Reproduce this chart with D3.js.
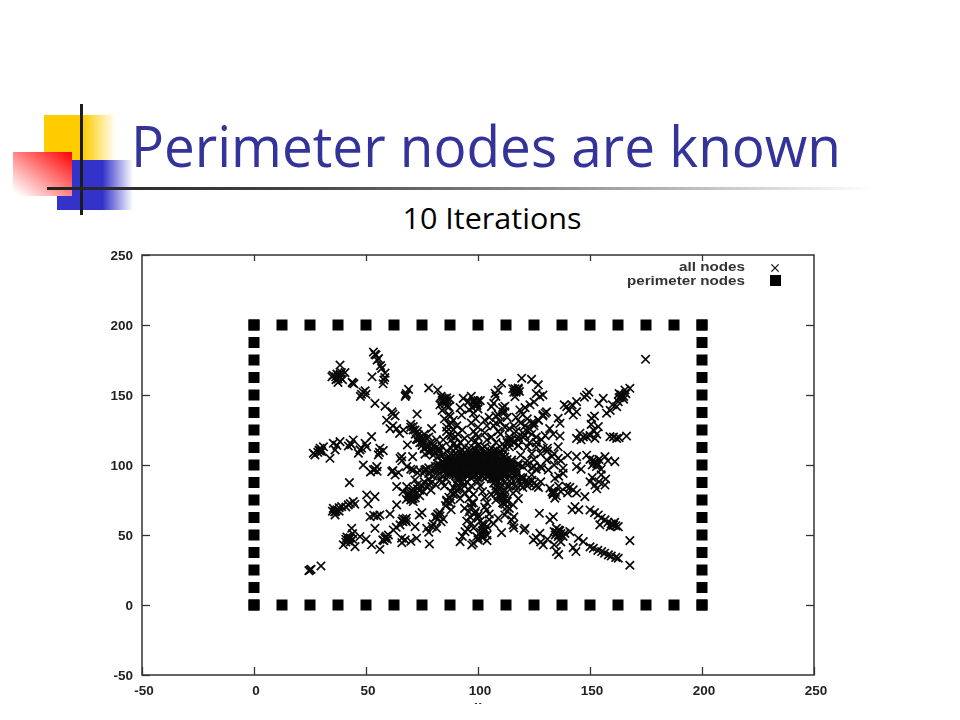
<!DOCTYPE html>
<html><head><meta charset="utf-8">
<script src="https://cdn.jsdelivr.net/npm/d3@7"></script>
<style>html,body{margin:0;padding:0;background:#fff}svg{display:block}</style>
</head><body><svg id="c" width="960" height="720"></svg>
<script>
const titleText = "Perimeter nodes are known";
const subtitleText = "10 Iterations";
const xTicks = [-50,0,50,100,150,200,250];
const yTicks = [-50,0,50,100,150,200,250];
const legendLabels = ["all nodes","perimeter nodes"];
const perimeterSteps = [0,12.5,25,37.5,50,62.5,75,87.5,100,112.5,125,137.5,150,162.5,175,187.5,200];

const upperLeftArm = [[53.3,180.7],[54,179],[54.5,178.6],[55,175],[55.6,176],[57,169],[56.5,171],[58.5,165.7],[58,160.7],[57.6,158],[58.4,162.5],[52.7,163],
[38.4,171.4],[39,166],[35.3,164],[38.4,163],[40.6,166],[37.5,159],[34.8,163],[37,165],[39.5,161],[36.6,161],[44,158.6],[43.8,159],[44.6,158],[48.7,152],[48,150.5],[49.6,153],[47.5,149],[50,150.5],
[54,144],[58.5,142],[61.6,138],[62,136.4],[63,135],[72.8,136.4],[68,151],[67.5,149],[69,154],[67.8,150],[78,155],[82,153.6],[84.6,146.6],[83.5,149],[85.5,144],[86,148],[83,143],[87,141.5],[85,145.5],[87.5,147],
[59.2,132],[60.7,126],[63.7,126],[62,128],[66.7,125],[65,122.5],[71.1,127.4],[71.9,125],[70,129],[73.4,121.5],[72.5,118.5],[75.6,119],[74,116],[79.3,126],[81.5,118],[84.5,118],[78,120],[77,114.5],[80,113.5],[82.5,112],[76,111.5],
[87.5,134.6],[89,132],[87,129],[90.5,128],[92.7,135.7],[93.4,147.6],[95.7,145.3],[92,141],[97,149],[96,139.5],[98.6,143],[99.5,144.5],[97.5,141],[98,146]];

const leftArm = [[29.5,112],[27.2,107.2],[26.5,108.4],[31,113],[30.2,109.6],[29,110.5],[33.9,104.8],[35.4,115.5],[38.4,116.7],[36.2,110.8],[37,114],[42.9,115.5],[44.3,117.9],[42.1,113.6],[43.5,114.5],[47.3,110.8],[46.6,108.4],[48,112],[49.6,115.5],[52.5,120.3],[50.3,113.1],[56.2,112],[57.7,110.3],[55.5,107.2],[56,109],[65.9,106],[65.2,104.8],[66,103],[70.8,106],[76.3,107.7],[68.5,114.3],
[48.8,100],[53.3,96.5],[54.8,98.8],[52,95],[55,95.5],[54,97],[61.5,95.3],[63,92.9],[62,96],[64.5,94.5],[68.2,98.8],[70,97],[76.3,96.5],[71.1,96.5],[73,94.5],[78,98],[80,97],[82,99],[84,96]];

const lowerLeft = [[25,25],[24.5,24.5],[25.5,25.5],[29.9,27.9],[42.6,87.4],[35.4,69],[35,67],[39.1,70.3],[38,69.5],[36.2,64.3],[36.5,67],[44.3,73.9],[42.1,71.5],[43,72.5],[41,70],[45,72],[50.3,78.6],[54,77.4],[51,72.2],[51.8,63],[53.5,64],[56.2,64.3],[55,63.5],[60.7,65],[63.7,71.5],
[67.4,60.8],[66.5,59.5],[68,62],[65.2,57.2],[66,60],[62.2,53.6],[63.5,55.5],[60,50],[58.5,47.7],[59,49],[57.5,46.5],[54,54.8],[43.6,54.8],[42.1,46.5],[41,45],[43,48],[44,47],[41.5,48.5],[39.9,43],[45.1,41.7],[47.3,48.9],[44,51],[52.5,43],[50,47],[56.2,39.8],[65.9,47.7],[67.5,46.5],[66,44.5],[72.6,47.7],[70,45.5],[71.9,56],[78.3,43.6],
[73.8,64.3],[75,66],[77.1,54.8],[78,52],[81.5,54.8],[79.5,56],[80,58],[82.3,64.3],[83,66],[81,62.5],[84.5,61.5],[83.5,59.5],
[63.7,84.6],[68.2,84.6],[66.5,81],[71.9,89.3],[68.9,79.8],[70.5,76],[71.1,73.9],[72,76.5],[74,78],[75.6,81],[73,83],[77,84.5],[79,82],[71,81],[83,89.3],[85,85],[81,86],[87.5,72.7],[85.5,71],[86,75],[88,68],[90.5,82],[89,79],[94.2,52.4],[92,45.3],[93,49],[95.5,54],[97.2,42.9],[99.4,48.9],[100,46.5],[96.4,63],[95,60],[97,58.5],[97.2,72.7],[94,69],[96,66.5],[92,76],[94,80]];

const upperRight = [[174.8,175.5],[119.5,162],[123.9,161.2],[110.5,158.4],[126.9,157.2],[117.2,153.6],[116,152],[118,155],[115.5,154.5],[118.5,152.5],[107.6,151.2],[108,149],[109,153.5],[127.6,148.8],[126,151],[129,150],[116.5,148.8],[106,141.7],[107,144],[112,138],[111,141],[113,134],[109,136],[123.2,143],[121,141],[125,145],[118.7,139.3],[120,136],[117,134],[122,133],[130.6,138],[129,136],[127,132],[125,130],[121,128],[116,128],[112,127],[108,130],[105,134],
[135.8,133.4],[136.6,129.8],[139.6,141.7],[140.5,139],[138.5,143],[144,145.3],[142,143],[148.5,150],[147.5,148.5],[149.5,152],[142.5,135.7],[144,138],[155.9,147.6],[154,144],[157.4,137],[159,139],[150.7,133.4],[152,135],[161.9,141.7],[160,143],[164.1,150],[163,148],[165,147],[167.8,154.8],[165.6,153.6],[162.6,145.3],[166,151],[153.7,127.4],[151.5,125],[150.5,129],[145.5,122.7],[147,120],[144,119],[146,118],[148.5,120.3],[150,121],[152.2,119],[153,122],[158.9,120.3],[161.9,119],[160.5,120],[163,119.5],[166.3,120.7],[133.6,122],[136.6,120.7],[135.8,113],[128.4,118],[126,120],[124,122],[129.1,112],[126,113],[123,116],[120,120],[118,114],[114,118],[110,122]];

const rightMid = [[144,106],[130.6,103.6],[135.8,104.8],[133,106],[148.5,107],[150,104],[152.2,102.4],[151,100],[153.5,101],[154,104],[156.7,106],[158,103],[161.1,102.4],[152.9,98.9],[155,97],[144,98.9],[146,97],[138,97.7],[128.4,97.7],[125,99],[122,103],[119,107],[124,108],
[138,94],[134.3,90.5],[136,92],[131.4,96.5],[126.2,85.7],[128,88],[122.4,88.1],[120,91],[117,94],[124,93],[152.2,85.7],[156.7,85.7],[154,88],[153,83],[151,91],[155,93],[150,88],[157,90],[150,67.9],[152,66],[153.7,64.3],[155,62],[156.7,60.8],[158,59],[160.4,57.2],[161,59],[162.6,56],[159,56],[154.4,57.2]];

const lowerRight = [[167.8,28.4],[167.8,46],[162.6,33.4],[161.5,34],[158.2,35.8],[159.5,35],[155.2,38.2],[156.5,37],[153.5,39],[151.5,40.5],[150,41.5],[147,45.3],[144.8,47.7],[143.7,38.2],[142.5,41],[135,38.2],[136,36],[135.8,48.9],[137,45],[134,43],[135,54.8],[134,52.5],[136.5,53],[138.8,51.2],[138,49],[141,52.4],[133.6,63],[132.1,60.8],[127.4,65.5],[121,54.8],[120.5,53.5],[115.7,57.2],[116,55],[110.5,51.7],[127.6,51.2],[124.7,46.5],[126,48],[129.1,42.9],[128,45],[131,47],
[103.1,53.6],[102,51],[100.1,47.7],[101.5,49],[97.9,44.1],[104,56],[143.3,70.3],[145,68],[142,68],[147.7,77.4],[144,80],[142.5,82.2],[140,80],[137,81],[134.3,76.3],[135,78],[132.1,83.4],[133.5,80],[139.6,84.6],[141,84],[136,85],
[115.7,79.8],[115.7,71.5],[113,74],[111.3,72.7],[110.5,77.4],[108,75],[107.6,82.2],[106,79],[103.8,67.9],[103,70],[105,65],[98.6,65.5],[100,62],[115,60.8],[116,63],[112,64.3],[113,67],[109,62],[107,58],[105,61],[102,58],[98,55],[120,84],[117,82],[114,85],[112,82],[118,76]];

const coreA = [[90,108],[94,108.4],[97,107.8],[101,108.5],[104,108],[107,107.6],[110,108.2],
[87,106],[91,106.3],[95,105.8],[99,106.2],[102,105.7],[105,106.1],[109,106],[112,105.8],
[85,104],[88,104.2],[92,103.8],[96,104.1],[100,104],[103,103.7],[106,104.2],[110,104],[113,103.9],
[84,102],[87,102.2],[90,101.8],[94,102],[97,102.3],[101,101.9],[104,102],[108,102.2],[111,101.8],[115,102],
[83,100],[86,100.2],[89,99.8],[92,100],[95,100.3],[98,99.9],[102,100],[105,100.2],[108,99.8],[112,100],[115,100.2],
[83,98],[87,98.2],[90,97.8],[93,98],[96,98.3],[100,97.9],[103,98],[106,98.2],[110,97.8],[113,98],[116,98.1],
[85,96],[88,96.2],[91,95.8],[95,96],[98,96.3],[101,95.9],[104,96],[108,96.2],[111,95.8],[114,96],[117,96.1],
[87,94],[90,94.2],[93,93.8],[97,94],[100,94.3],[103,93.9],[107,94],[110,94.2],[113,93.8],
[91,92],[95,92.2],[98,91.8],[102,92],[105,92.3],[108,91.9],[112,92]];

const coreB = [[92,109],[96,109.5],[99,109],[103,109.6],[106,109.2],[89,107],[93,107],[97,106.9],[100.5,107],[104,107],[107.5,107.2],[111,107],
[86.5,105],[90,105],[94,105],[97.5,105.2],[101,105],[104.5,105],[108,105],[111.5,105],[85.5,103],[89,103],[93,103],[95.5,103],[99,103],[102,103],[105.5,103],[109,103],[112,103],[115,103.5],
[85,101],[88,101],[91,101],[93.5,101],[96.5,101],[100,101],[103,101],[106.5,101],[110,101],[113.5,101],[84.5,99],[88,99],[91,99],[94,99],[97,99],[100,99],[103.5,99],[107,99],[110,99],[114,99],
[85,97],[89,97],[92,97],[94.5,97],[97.5,97],[102,97],[105,97],[109,97],[112,97],[115,97],[87,95],[89.5,95],[92.5,95],[96,95],[99.5,95],[102.5,95],[106,95],[109,95],[112.5,95],[116,95],
[89,93],[93,93],[96,93],[99,93],[101.5,93],[105,93],[109,93],[111.5,93.5],[114,93],[93,91],[97,90.5],[100,91],[103,90.5],[106,91],[110,90.8]];

const coreC = [[86,103],[88,100.6],[91,99.5],[93,101.5],[95,99],[97,100.5],[99,101.5],[101,99.5],[103,100.5],[105,99],[107,100.8],[109,98.6],[111,100.5],[113,99.4],[88,98],[90,96],[92,98.5],[94,96.5],[96,97.5],[98,95],[100,96.5],[102,98.5],[104,97.5],[106,96.5],[108,97.8],[110,96],[112,95],[114,97.5],[90,103.5],[92,102],[94,104],[96,102.5],[98,104],[100,102.5],[102,104.5],[104,103.5],[106,102.5],[108,104],[110,102.5],[112,101.5],[92,105.5],[95,107],[98,105],[101,106.5],[103,105],[106,106],[96,93.5],[99,92.5],[102,94],[104,92],[107,92.5],[94,94],[90,92.5],[88,94.5],[110,92],[112,94],[115,94],[117,98],[118,100],[82,101],[81,99],[84,98]];

const raysUp = [[80,107],[79,110],[78,109],[77,113],[76,112],[75,116],[74,119],[73,118],[72,122],[71,125],[73,124],[70,127],[81,112],[83,110],[79,116],[77,119],[76,122],[84,113],
[90,112],[89,115],[88,118],[90,120],[87,122],[89,125],[86,127],[88,130],[85,133],[87,136],[84,139],[86,142],[85,146],[84,148],[92,116],[91,122],
[98,112],[100,114],[97,118],[100,120],[98,124],[100,127],[97,130],[99,133],[98,137],[100,140],[99,143],[98,145],[101,146],
[110,110],[112,113],[113,116],[115,118],[116,116],[118,120],[120,123],[121,121],[123,126],[125,128],[124,130],[127,132],[129,135],[130,137],[111,115],[114,120],[117,124],
[106,112],[108,116],[106,120],[109,124],[107,128],[110,131],[108,135],[111,138],[112,142],[103,113],[104,118],[103,123],[104,128],[94,113],[94,119],[93,125],
[84,107],[82,106],[81,109],[80,111],[78,113],[75,114],[86,110],[88,112],[91,113],[93,111],[96,112],[99,111],[102,112],[105,110],[108,111],[111,111],[114,113],[88,121],[86,124],[99,117],[99,122],[114,116],[118,118],[122,124]];

const raysDown = [[118,101],[120,99],[122,100],[124,98],[126,97],[128,99],[117,92],[119,91],[118,89],[120,90],[121,88],[123,87],[122,85],[125,87],[126,85],[127,84],[124,89],[115,90],
[106,90],[107,87],[109,88],[108,85],[110,84],[109,81],[111,80],[110,77],[112,76],[111,73],[113,74],[113,70],[112,72],[114,69],[108,82],[107,90],
[91,90],[90,87],[92,87],[89,84],[91,83],[88,81],[90,80],[87,77],[88,75],[86,74],
[95,88],[97,85],[96,82],[98,79],[96,76],[98,73],[97,70],[99,67],[100,64],[101,60],[102,56],[103,53],[104,50],[102,48],[104,46],[100,88],[101,85],[102,81],[103,77],[104,73],
[81,97],[79,96],[77,97],[76,95],[78,94],[74,96],[80,92],[78,90],[79,87],[76,88],[75,85],[73,86],[74,82],[71,83],[72,79],[70,80],[69,77],[71,76],
[108,89],[110,87],[112,88],[113,85],[115,87],[117,85],[119,86],[109,78],[111,76],[112,79],[93,88],[94,85],[92,84],[86,90],[84,92],[82,93],[84,88],[78,86]];

const between = [[103,132],[118,114],[122,113],[126,116],[131,112],[134,108],[125,104],[128,108],[131,110],[134,100],[137,103],[140,107],[132,126],[130,121],[114,126],[119,130]];

const denseClusters = [[84,146],[85,147.5],[86,146],[84.5,145],[99,144],[99.5,142.5],[98.5,145.5],[100,146],[117,153],[116.5,154.5],[118,154],[117,152],[164,150],[163.5,148.5],[165,149],[163,151],[29.5,110],[30,111],[28.5,109],[37.5,164],[38.5,165],[36.5,163],[37.5,161.5],[42,46],[42.5,47.5],[41,47],[43,45],[58.5,48],[59.5,47],[58,46],[67.5,61],[68,59.5],[66.5,61.5],[37,68],[38,67],[36,66.5],[135,52],[136,53.5],[137,51],[134.5,50],[136,50],[160.5,57],[161.5,56.5],[159.5,58],[152,102],[153,101],[151.5,103.5],[133.5,79],[134.5,80.5],[133,81],[102,53],[103,54.5],[101,52],[82,65],[83,63.5],[81.5,63],[70,77],[69,78.5],[71,78],[68,75.5],[70,75]];

const allNodes = [].concat(upperLeftArm, leftArm, lowerLeft, upperRight, rightMid, lowerRight, coreA, coreB, coreC, raysUp, raysDown, between, denseClusters);
const perimeterNodes = [].concat(
  perimeterSteps.map(v => [v, 0]), perimeterSteps.map(v => [v, 200]),
  perimeterSteps.map(v => [0, v]), perimeterSteps.map(v => [200, v]));

const svg = d3.select("#c");
const defs = svg.append("defs");
function grad(id, stops, x2=1, y2=0, x1=0, y1=0){
  const g = defs.append("linearGradient").attr("id", id)
    .attr("x1",x1).attr("y1",y1).attr("x2",x2).attr("y2",y2);
  stops.forEach(s => g.append("stop").attr("offset",s[0]).attr("stop-color",s[1]).attr("stop-opacity",s[2]));
}
grad("gy", [[0,"#ffcc00",1],[0.55,"#ffcc00",1],[1,"#ffcc00",0]]);
grad("gb", [[0,"#3333cc",1],[0.6,"#3333cc",1],[1,"#3333cc",0]]);
grad("gr", [[0,"#ff0000",1],[0.95,"#ff0000",0]], 0, 1, 1, 0);
grad("gl", [[0,"#222222",1],[0.3,"#444444",1],[1,"#222222",0]]);

const logo = svg.append("g");
logo.append("rect").attr("x",44).attr("y",115).attr("width",72).attr("height",45).attr("fill","url(#gy)");
logo.append("rect").attr("x",57).attr("y",160).attr("width",76).attr("height",50).attr("fill","url(#gb)");
logo.append("rect").attr("x",13).attr("y",152).attr("width",59).attr("height",44).attr("fill","#fff");
logo.append("rect").attr("x",13).attr("y",152).attr("width",59).attr("height",44).attr("fill","url(#gr)");
logo.append("rect").attr("x",80).attr("y",104).attr("width",3).attr("height",111).attr("fill","#1c1c1c");
logo.append("rect").attr("x",47).attr("y",187).attr("width",825).attr("height",3).attr("fill","url(#gl)");

svg.append("text").attr("x",131).attr("y",167).attr("font-family","'Open Sans'").attr("font-size",56)
  .attr("textLength",710).attr("lengthAdjust","spacingAndGlyphs").attr("fill","#333399").text(titleText);
svg.append("text").attr("x",492).attr("y",229).attr("text-anchor","middle").attr("font-family","'Open Sans'")
  .attr("font-size",29).attr("textLength",179).attr("lengthAdjust","spacingAndGlyphs").attr("fill","#000").text(subtitleText);

const x = d3.scaleLinear().domain([-50,250]).range([142,814]);
const y = d3.scaleLinear().domain([-50,250]).range([675,255]);
const plot = svg.append("g").style("filter","blur(0.35px)");

plot.append("rect").attr("x",x(-50)).attr("y",y(250)).attr("width",x(250)-x(-50)).attr("height",y(-50)-y(250))
  .attr("fill","none").attr("stroke","#333").attr("stroke-width",1.5);

function styleAxis(g){
  g.select(".domain").remove();
  g.selectAll("line").attr("stroke","#333").attr("stroke-width",1.3);
  g.selectAll("text").attr("font-family","'Liberation Sans'").attr("font-weight","bold").attr("font-size",13.5).attr("fill","#222");
}
const tf = d => String(d);
plot.append("g").attr("transform",`translate(0,${y(-50)})`)
  .call(d3.axisBottom(x).tickValues(xTicks).tickFormat(tf).tickSizeInner(-8).tickSizeOuter(0).tickPadding(10)).call(styleAxis)
  .selectAll("text").attr("dx",1.5);
plot.append("g").attr("transform",`translate(0,${y(250)})`)
  .call(d3.axisTop(x).tickValues(xTicks.slice(1,-1)).tickFormat("").tickSizeInner(-6).tickSizeOuter(0)).call(styleAxis);
plot.append("g").attr("transform",`translate(${x(-50)},0)`)
  .call(d3.axisLeft(y).tickValues(yTicks).tickFormat(tf).tickSizeInner(-8).tickSizeOuter(0).tickPadding(9)).call(styleAxis);
plot.append("g").attr("transform",`translate(${x(250)},0)`)
  .call(d3.axisRight(y).tickValues(yTicks.slice(1,-1)).tickFormat("").tickSizeInner(-8).tickSizeOuter(0)).call(styleAxis);

plot.append("g").selectAll("rect").data(perimeterNodes).join("rect")
  .attr("x",d=>x(d[0])-5.5).attr("y",d=>y(d[1])-5.5).attr("width",11).attr("height",11).attr("fill","#000");

const cross = d3.symbol().type(d3.symbolTimes).size(48);
plot.append("g").selectAll("path").data(allNodes).join("path")
  .attr("d",cross).attr("transform",d=>`translate(${x(d[0])},${y(d[1])})`)
  .attr("fill","none").attr("stroke","#0a0a0a").attr("stroke-width",1.7);

const lg = plot.append("g").attr("font-family","'Liberation Sans'").attr("font-weight","bold").attr("font-size",12).attr("fill","#333");
lg.append("text").attr("x",745).attr("y",271).attr("text-anchor","end").attr("textLength",66).attr("lengthAdjust","spacingAndGlyphs").text(legendLabels[0]);
lg.append("text").attr("x",745).attr("y",285).attr("text-anchor","end").attr("textLength",118).attr("lengthAdjust","spacingAndGlyphs").text(legendLabels[1]);
lg.append("path").attr("d",d3.symbol().type(d3.symbolTimes).size(36)).attr("transform","translate(775,268)").attr("fill","none").attr("stroke","#111").attr("stroke-width",1.3);
lg.append("rect").attr("x",770).attr("y",275).attr("width",11).attr("height",11).attr("fill","#000");

svg.append("text").attr("x",478).attr("y",710).attr("text-anchor","middle").attr("font-family","'Liberation Sans'")
  .attr("font-weight","bold").attr("font-size",13).attr("fill","#222").text("x");
svg.append("rect").attr("x",0).attr("y",704).attr("width",960).attr("height",16).attr("fill","#fff");
</script></body></html>
